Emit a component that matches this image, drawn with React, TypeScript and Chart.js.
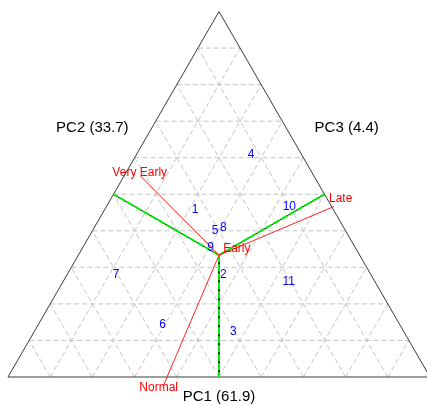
import React, { useEffect, useRef } from "react";
import { Chart, registerables } from "chart.js";

Chart.register(...registerables);

// ---- data (unit triangle: base from x=0 to x=1, apex at y=sqrt(3)/2) ----
const H3 = Math.sqrt(3) / 2;
const gridDivisions = 10;

const axisTitles = ["PC1 (61.9)", "PC2 (33.7)", "PC3 (4.4)"];
const axisTitleX = [0.5, 0.1998, 0.8026];
const axisTitleY = [-0.0467, 0.5893, 0.5893];

// centre point (equal parts) and its projections onto the three sides
const centreX = 0.5;
const centreY = 0.2887;
const footX = [0.5, 0.25, 0.75];
const footY = [0, 0.433, 0.433];

// variables (red arrows)
const varNames = ["Very Early", "Early", "Late", "Normal"];
const varEndX = [0.314, 0.5166, 0.7725, 0.3673];
const varEndY = [0.4763, 0.2962, 0.404, -0.0225];
const varLabelX = [0.3121, 0.5422, 0.7884, 0.3571];
const varLabelY = [0.4851, 0.305, 0.4218, -0.0254];

// observations (blue numbers)
const obsLabels = ["1", "2", "3", "4", "5", "6", "7", "8", "9", "10", "11"];
const obsX = [0.4431, 0.5102, 0.5339, 0.5758, 0.4905, 0.3666, 0.2559, 0.5102, 0.4803, 0.6666, 0.6652];
const obsY = [0.3957, 0.2417, 0.1073, 0.5277, 0.3467, 0.1232, 0.2417, 0.3538, 0.3073, 0.4036, 0.2258];

const FONT = "'Liberation Sans', Arial, Helvetica, sans-serif";

function seg(x1: number, y1: number, x2: number, y2: number, style: any) {
  return {
    data: [
      { x: x1, y: y1 },
      { x: x2, y: y2 },
    ],
    showLine: true,
    pointRadius: 0,
    pointHoverRadius: 0,
    fill: false,
    ...style,
  };
}

const textPlugin = {
  id: "ternaryText",
  afterDatasetsDraw(chart: any) {
    const { ctx, scales } = chart;
    const sx = scales.x;
    const sy = scales.y;
    ctx.save();
    ctx.textAlign = "center";
    ctx.textBaseline = "middle";
    // axis titles
    ctx.fillStyle = "#000000";
    ctx.font = `15px ${FONT}`;
    axisTitles.forEach((t, i) => {
      ctx.fillText(t, sx.getPixelForValue(axisTitleX[i]), sy.getPixelForValue(axisTitleY[i]));
    });
    // observations
    ctx.fillStyle = "#0000ff";
    ctx.font = `12px ${FONT}`;
    obsLabels.forEach((t, i) => {
      ctx.fillText(t, sx.getPixelForValue(obsX[i]), sy.getPixelForValue(obsY[i]));
    });
    // variables
    ctx.fillStyle = "#ff0000";
    ctx.font = `12px ${FONT}`;
    varNames.forEach((t, i) => {
      ctx.fillText(t, sx.getPixelForValue(varLabelX[i]), sy.getPixelForValue(varLabelY[i]));
    });
    ctx.restore();
  },
};

export default function App() {
  const ref = useRef<HTMLCanvasElement | null>(null);

  useEffect(() => {
    if (!ref.current) return;
    const datasets: any[] = [];
    const gridStyle = {
      borderColor: "#c4c4c4",
      borderWidth: 1,
      borderDash: [5, 3],
      order: 20,
    };
    for (let k = 1; k < gridDivisions; k++) {
      const t = k / gridDivisions;
      datasets.push(seg(t / 2, t * H3, 1 - t / 2, t * H3, gridStyle));
      datasets.push(seg(t, 0, (1 + t) / 2, (1 - t) * H3, gridStyle));
      datasets.push(seg(t, 0, t / 2, t * H3, gridStyle));
    }
    // triangle border
    datasets.push({
      data: [
        { x: 0, y: 0 },
        { x: 1, y: 0 },
        { x: 0.5, y: H3 },
        { x: 0, y: 0 },
      ],
      showLine: true,
      pointRadius: 0,
      borderColor: "#3a3a3a",
      borderWidth: 1,
      order: 10,
      fill: false,
    });
    // projections: black solid under green dashed
    footX.forEach((fx, i) => {
      datasets.push(seg(centreX, centreY, fx, footY[i], { borderColor: "#000000", borderWidth: 1, order: 6 }));
      datasets.push(
        seg(centreX, centreY, fx, footY[i], { borderColor: "#00ee00", borderWidth: 2, borderDash: [7, 2], order: 5 })
      );
    });
    // variable arrows
    varEndX.forEach((vx, i) => {
      datasets.push(seg(centreX, centreY, vx, varEndY[i], { borderColor: "#ff2020", borderWidth: 1, order: 2 }));
    });

    const chart = new Chart(ref.current, {
      type: "scatter",
      data: { datasets },
      options: {
        animation: false,
        responsive: false,
        events: [],
        layout: { padding: 0 },
        scales: {
          x: { type: "linear", display: false, min: -8 / 422, max: -8 / 422 + 427 / 422 },
          y: { type: "linear", display: false, min: 377 / 422 - 405 / 422, max: 377 / 422 },
        },
        plugins: { legend: { display: false }, tooltip: { enabled: false } },
      },
      plugins: [textPlugin],
    } as any);
    return () => chart.destroy();
  }, []);

  return (
    <div style={{ position: "fixed", left: 0, top: 0, width: 427, height: 405, background: "#fff" }}>
      <canvas ref={ref} width={427} height={405} />
    </div>
  );
}
